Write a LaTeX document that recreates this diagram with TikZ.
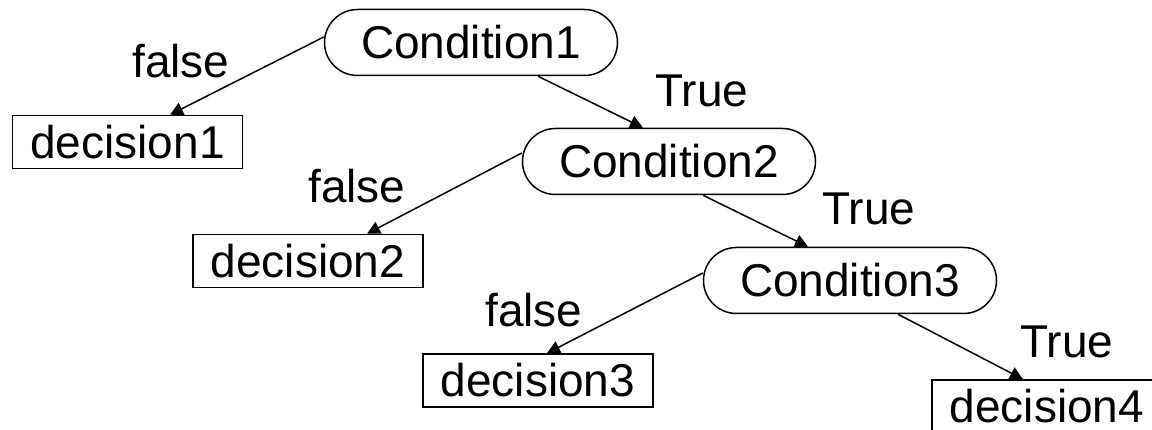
\documentclass[tikz,border=0pt]{standalone}
\usepackage{fontspec}
\setmainfont{Liberation Sans}
\usetikzlibrary{arrows.meta}
\begin{document}
\begin{tikzpicture}[x=1pt,y=-1pt,
  every node/.style={font=\fontsize{46}{54}\selectfont, inner sep=0pt},
  cond/.style={draw, line width=1.5pt, rounded corners=33pt,
               minimum width=293pt, minimum height=66pt},
  decision/.style={draw, line width=1.5pt,
               minimum width=230pt, minimum height=53pt},
  lbl/.style={anchor=base},
  edge/.style={line width=1.5pt, -{Triangle[length=13pt,width=13pt]}}]
\useasboundingbox (0,0) rectangle (1152,430);
\begin{scope}
\clip (0,0) rectangle (1152,430);

% condition nodes
\node[cond] (c1) at (471,42.5) {Condition1};
\node[cond] (c2) at (669,161.5) {Condition2};
\node[cond] (c3) at (850,280.5) {Condition3};

% decision leaves
\node[decision] (d1) at (127.5,142) {decision1};
\node[decision] (d2) at (308,261) {decision2};
\node[decision] (d3) at (538,380.5) {decision3};
\node[decision] (d4) at (1047,406.5) {decision4};

% branches
\draw[edge] ([yshift=5.5pt]c1.west) -- ([xshift=42.5pt]d1.north);
\draw[edge] ([xshift=67pt]c1.south) -- ([xshift=-26pt]c2.north);
\draw[edge] ([yshift=8.5pt]c2.west) -- ([xshift=59pt]d2.north);
\draw[edge] ([xshift=34pt]c2.south) -- ([xshift=-42pt]c3.north);
\draw[edge] ([yshift=7.5pt]c3.west) -- ([xshift=9pt]d3.north);
\draw[edge] ([xshift=48pt]c3.south) -- ([xshift=-24pt]d4.north);

% branch labels
\node[lbl] (f1) at (181,78) {false};
\node[lbl] (t1) at (702,107) {True};
\node[lbl] (f2) at (357,203) {false};
\node[lbl] (t2) at (869,225) {True};
\node[lbl] (f3) at (534,327) {false};
\node[lbl] (t3) at (1067,358) {True};
\end{scope}
\end{tikzpicture}
\end{document}
